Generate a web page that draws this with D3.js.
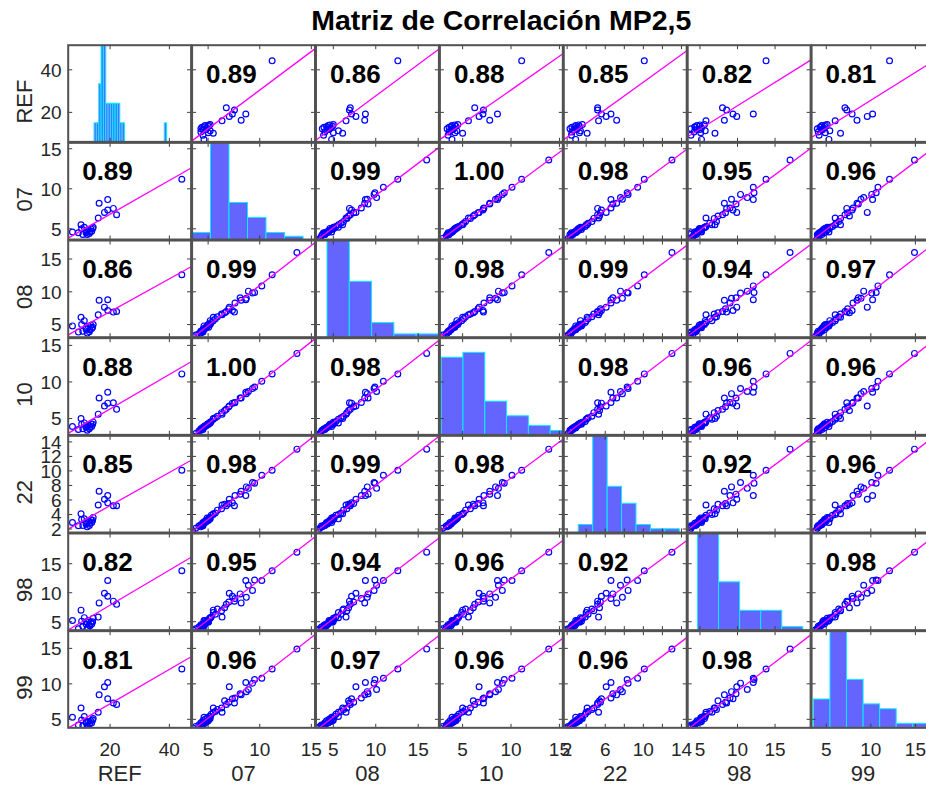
<!DOCTYPE html>
<html>
<head>
<meta charset="utf-8">
<script src="https://cdn.jsdelivr.net/npm/d3@7"></script>
<style>
  body { margin: 0; background: #ffffff; }
  svg { display: block; }
  text { font-family: "Liberation Sans", Arial, Helvetica, sans-serif; }
</style>
</head>
<body>
<svg id="chart" width="926" height="787"></svg>
<script>
// ---- Data: daily PM2.5 at the reference station and six sensors ----
const varNames = ["REF", "07", "08", "10", "22", "98", "99"];

const valsREF = [7.3, 9.3, 10.2, 10.4, 11.3, 11.9, 12.3, 12.7, 13.0, 13.5, 13.8, 14.1, 14.3, 12.0, 13.2, 10.8,
  16.0, 16.3, 18.1, 19.2, 19.2, 21.1, 22.2, 44.2,
  null, null, null, null, null, null, null, null, null, null, null, null, null, null, null, null, null, null, null, null, null, null, null];
const vals07 = [4.6, 4.5, 5.5, 5.0, 5.2, 4.5, 4.3, 4.9, 4.4, 5.0, 4.7, 5.05, 5.2, 4.8, 4.6, 4.3,
  6.35, 8.2, 7.05, 8.65, 7.35, 7.55, 6.76, 11.2,
  13.6, 10.2, 9.5, 9.3, 8.9, 8.7, 8.1, 7.6, 7.0, 6.6, 6.3, 5.9, 5.7, 5.5, 5.3, 5.1, 4.9, 4.7, 4.5, 4.3, 4.1, 3.8, 3.5];
const vals08 = [4.8, 3.85, 6.1, 5.0, 5.6, 4.3, 3.7, 4.7, 3.9, 4.9, 4.4, 4.6, 5.0, 4.5, 4.2, 4.0,
  6.5, 8.7, 7.66, 8.78, 7.15, 6.9, 7.0, 12.6,
  16.0, 10.9, 9.9, 9.8, 10.1, 9.0, 9.1, 8.3, 7.4, 6.8, 6.6, 6.2, 5.9, 5.6, 5.3, 5.1, 4.8, 4.5, 4.2, 4.0, 3.6, 3.4, 3.2];
const vals10 = [3.9, 3.5, 5.0, 4.2, 4.4, 3.8, 3.4, 4.1, 3.6, 4.3, 3.9, 4.2, 4.5, 4.0, 3.8, 3.6,
  5.6, 7.8, 6.7, 8.6, 7.1, 7.15, 6.25, 11.1,
  13.9, 10.1, 9.3, 9.1, 8.7, 8.4, 7.8, 7.2, 6.6, 6.1, 5.8, 5.3, 5.1, 4.9, 4.6, 4.4, 4.2, 4.0, 3.7, 3.5, 3.3, 2.95, 2.65];
const vals22 = [2.9, 2.45, 4.1, 3.3, 3.4, 2.7, 2.3, 3.1, 2.5, 3.3, 2.9, 3.2, 3.6, 3.0, 2.8, 2.5,
  5.3, 7.2, 6.1, 6.6, 5.6, 5.2, 5.2, 10.1,
  13.0, 9.4, 8.3, 8.4, 7.6, 7.8, 6.8, 6.6, 5.5, 5.4, 4.8, 4.6, 4.2, 4.0, 3.9, 3.5, 3.5, 3.1, 2.9, 2.6, 2.4, 2.1, 1.8];
const vals98 = [5.2, 3.8, 7.0, 5.1, 5.7, 4.6, 3.8, 5.2, 4.4, 4.9, 4.6, 5.0, 5.6, 5.0, 4.3, 4.2,
  5.8, 8.25, 9.9, 12.1, 9.4, 8.55, 8.0, 13.8,
  17.0, 12.1, 12.2, 10.4, 11.3, 9.2, 9.8, 9.0, 8.4, 7.4, 6.9, 7.2, 6.3, 6.6, 5.8, 5.5, 5.1, 5.2, 4.6, 4.5, 4.1, 3.8, 3.6];
const vals99 = [5.3, 4.2, 6.6, 4.9, 5.4, 4.5, 4.0, 4.7, 4.3, 4.8, 4.5, 4.9, 5.1, 4.6, 4.4, 4.1,
  6.0, 8.45, 9.6, 10.2, 7.9, 7.3, 7.1, 12.1,
  14.9, 10.8, 10.6, 10.1, 9.2, 8.9, 8.6, 8.0, 7.4, 7.6, 6.6, 6.4, 6.1, 6.0, 5.7, 5.4, 5.2, 5.0, 4.8, 4.5, 4.2, 4.0, 3.8];
const series = [valsREF, vals07, vals08, vals10, vals22, vals98, vals99];

// Pearson coefficients printed in each off-diagonal cell (row, column)
const corrREF = [null, 0.89, 0.86, 0.88, 0.85, 0.82, 0.81];
const corr07  = [0.89, null, 0.99, 1.00, 0.98, 0.95, 0.96];
const corr08  = [0.86, 0.99, null, 0.98, 0.99, 0.94, 0.97];
const corr10  = [0.88, 1.00, 0.98, null, 0.98, 0.96, 0.96];
const corr22  = [0.85, 0.98, 0.99, 0.98, null, 0.92, 0.96];
const corr98  = [0.82, 0.95, 0.94, 0.96, 0.92, null, 0.98];
const corr99  = [0.81, 0.96, 0.97, 0.96, 0.96, 0.98, null];
const corrRows = [corrREF, corr07, corr08, corr10, corr22, corr98, corr99];

// Axis limits of the scatter axes: x along each column, y along each row
const xLimits = [[5.7, 47.5], [3.4, 15.4], [2.9, 17.5], [2.6, 15.4], [1.6, 14.6], [3.3, 19.8], [3.3, 17.2]];
const yLimits = [[5.9, 51.8], [3.6, 15.8], [3.0, 17.9], [2.7, 16.05], [1.45, 14.9], [3.46, 20.3], [3.73, 17.5]];

// Tick marks and tick labels
const tickValues = [[20, 40], [5, 10, 15], [5, 10, 15], [5, 10, 15], [2, 4, 6, 8, 10, 12, 14], [5, 10, 15], [5, 10, 15]];
const xTickLabels = [[20, 40], [5, 10, 15], [5, 10, 15], [5, 10, 15], [2, 6, 10, 14], [5, 10, 15], [5, 10, 15]];
const yTickLabels = [[20, 40], [5, 10, 15], [5, 10, 15], [5, 10, 15], [2, 4, 6, 8, 10, 12, 14], [5, 10, 15], [5, 10, 15]];

// Diagonal histograms: bin counts, first edge and bin width, and the x-limits of each histogram axes
const histREF = [1, 1, 3, 5, 5, 2, 2, 2, 2, 2, 2, 1, 1, 0, 0, 0, 0, 0, 0, 0, 0, 0, 0, 0, 0, 0, 0, 0, 0, 0, 1];
const hist07 = [2, 26, 10, 6, 2, 1];
const hist08 = [26, 15, 4, 1, 1];
const hist10 = [16, 17, 7, 4, 2, 1];
const hist22 = [2, 23, 11, 7, 2, 1, 1];
const hist98 = [24, 12, 5, 5, 1];
const hist99 = [6, 20, 10, 5, 4, 1, 1];
const histCounts = [histREF, hist07, hist08, hist10, hist22, hist98, hist99];
const histFirstEdge = [7.3, 2, 3, 3, 1.6, 3.6, 3.8];
const histBinWidth = [1.19, 2, 3, 2.5, 1.8, 3, 2];
const histXLimits = [[-6.1, 56.9], [1.96, 15.35], [1.45, 18.13], [2.8, 17.0], [-0.27, 15.19], [2.13, 19.78], [3.52, 18.49]];
const histYMax = [5, 26, 26, 20, 23, 24, 20];

// ---- Layout ----
const svg = d3.select("#chart");
const nVar = varNames.length;
const nObs = vals07.length;
const gridLeft = 67.7, gridTop = 44.7, cellW = 123.9, cellH = 97.66;
const colX = j => gridLeft + j * cellW;
const rowY = i => gridTop + i * cellH;

const xScales = xLimits.map((d, j) => d3.scaleLinear().domain(d).range([colX(j), colX(j + 1)]));
const yScales = yLimits.map((d, i) => d3.scaleLinear().domain(d).range([rowY(i + 1), rowY(i)]));

const defs = svg.append("defs");
for (let i = 0; i < nVar; i++) {
  for (let j = 0; j < nVar; j++) {
    defs.append("clipPath").attr("id", `clip-${i}-${j}`)
      .append("rect").attr("x", colX(j)).attr("y", rowY(i)).attr("width", cellW).attr("height", cellH);
  }
}

const fmt = d3.format(".2f");

for (let i = 0; i < nVar; i++) {
  for (let j = 0; j < nVar; j++) {
    const g = svg.append("g").attr("clip-path", `url(#clip-${i}-${j})`);
    if (i === j) {
      // histogram of the variable
      const counts = histCounts[i];
      const xh = d3.scaleLinear().domain(histXLimits[i]).range([colX(j), colX(j + 1)]);
      const yh = d3.scaleLinear().domain([0, histYMax[i]]).range([rowY(i + 1), rowY(i)]);
      const bins = counts.map((c, k) => ({
        x0: histFirstEdge[i] + k * histBinWidth[i],
        x1: histFirstEdge[i] + (k + 1) * histBinWidth[i],
        c
      }));
      g.selectAll("rect.bar").data(bins).join("rect")
        .attr("class", "bar")
        .attr("x", d => xh(d.x0))
        .attr("width", d => xh(d.x1) - xh(d.x0))
        .attr("y", d => yh(d.c))
        .attr("height", d => yh(0) - yh(d.c))
        .attr("fill", "#6464ff")
        .attr("stroke", "#00f0ff")
        .attr("stroke-width", 1);
    } else {
      const xs = series[j], ys = series[i];
      const pts = d3.range(nObs)
        .filter(k => xs[k] != null && ys[k] != null)
        .map(k => [xs[k], ys[k]]);
      g.selectAll("circle").data(pts).join("circle")
        .attr("cx", d => xScales[j](d[0]))
        .attr("cy", d => yScales[i](d[1]))
        .attr("r", 2.9)
        .attr("fill", "none")
        .attr("stroke", "#0000ff")
        .attr("stroke-width", 1.2);
      // least-squares line across the axis limits
      const mx = d3.mean(pts, p => p[0]), my = d3.mean(pts, p => p[1]);
      const sxy = d3.sum(pts, p => (p[0] - mx) * (p[1] - my));
      const sxx = d3.sum(pts, p => (p[0] - mx) * (p[0] - mx));
      const slope = sxy / sxx, icpt = my - slope * mx;
      const [xa, xb] = xLimits[j];
      g.append("line")
        .attr("x1", xScales[j](xa)).attr("y1", yScales[i](icpt + slope * xa))
        .attr("x2", xScales[j](xb)).attr("y2", yScales[i](icpt + slope * xb))
        .attr("stroke", "#ff00ff").attr("stroke-width", 1.3);
      // coefficient label
      svg.append("text")
        .attr("x", colX(j) + 14.5)
        .attr("y", rowY(i) + 38)
        .attr("font-size", 26)
        .attr("font-weight", "bold")
        .attr("fill", "#000")
        .text(fmt(corrRows[i][j]));
    }
  }
}

// tick marks on every cell, pointing inwards on all four sides
const tickLen = 4.5;
const tickG = svg.append("g").attr("stroke", "#3c3c3c").attr("stroke-width", 1);
for (let i = 0; i < nVar; i++) {
  for (let j = 0; j < nVar; j++) {
    const x0 = colX(j), x1 = colX(j + 1), y0 = rowY(i), y1 = rowY(i + 1);
    tickValues[j].filter(v => v > xLimits[j][0] && v < xLimits[j][1]).forEach(v => {
      const x = xScales[j](v);
      if (x > x1 - 1) return;
      tickG.append("line").attr("x1", x).attr("x2", x).attr("y1", y1).attr("y2", y1 - tickLen);
      tickG.append("line").attr("x1", x).attr("x2", x).attr("y1", y0).attr("y2", y0 + tickLen);
    });
    tickValues[i].filter(v => v > yLimits[i][0] && v < yLimits[i][1]).forEach(v => {
      const y = yScales[i](v);
      tickG.append("line").attr("y1", y).attr("y2", y).attr("x1", x0).attr("x2", x0 + tickLen);
      tickG.append("line").attr("y1", y).attr("y2", y).attr("x1", x1).attr("x2", x1 - tickLen);
    });
  }
}

// cell frames
for (let i = 0; i < nVar; i++) {
  for (let j = 0; j < nVar; j++) {
    svg.append("rect")
      .attr("x", colX(j) + 0.5).attr("y", rowY(i) + 0.5)
      .attr("width", cellW - 1).attr("height", cellH - 1)
      .attr("fill", "none").attr("stroke", "#525252").attr("stroke-width", 2);
  }
}

// tick labels: left column and bottom row
const labelColor = "#262626";
for (let i = 0; i < nVar; i++) {
  yTickLabels[i].filter(v => v > yLimits[i][0] && v < yLimits[i][1]).forEach(v => {
    svg.append("text")
      .attr("x", gridLeft - 6).attr("y", yScales[i](v))
      .attr("dy", "0.36em")
      .attr("text-anchor", "end")
      .attr("font-size", 19).attr("fill", labelColor)
      .text(v);
  });
}
const bottomY = rowY(nVar);
for (let j = 0; j < nVar; j++) {
  xTickLabels[j].filter(v => v > xLimits[j][0] && v < xLimits[j][1]).forEach(v => {
    svg.append("text")
      .attr("x", xScales[j](v)).attr("y", bottomY + 27.5)
      .attr("text-anchor", "middle")
      .attr("font-size", 19).attr("fill", labelColor)
      .text(v);
  });
}

// variable names
for (let j = 0; j < nVar; j++) {
  svg.append("text")
    .attr("x", colX(j) + cellW / 2 - 10).attr("y", 781)
    .attr("text-anchor", "middle")
    .attr("font-size", 22).attr("fill", labelColor)
    .text(varNames[j]);
}
for (let i = 0; i < nVar; i++) {
  svg.append("text")
    .attr("transform", `translate(31.5, ${rowY(i) + cellH / 2 + 8}) rotate(-90)`)
    .attr("text-anchor", "middle")
    .attr("font-size", 22).attr("fill", labelColor)
    .text(varNames[i]);
}

// title
svg.append("text")
  .attr("x", gridLeft + nVar * cellW / 2).attr("y", 30)
  .attr("text-anchor", "middle")
  .attr("font-size", 28.5).attr("font-weight", "bold").attr("fill", "#000")
  .text("Matriz de Correlación MP2,5");
</script>
</body>
</html>
